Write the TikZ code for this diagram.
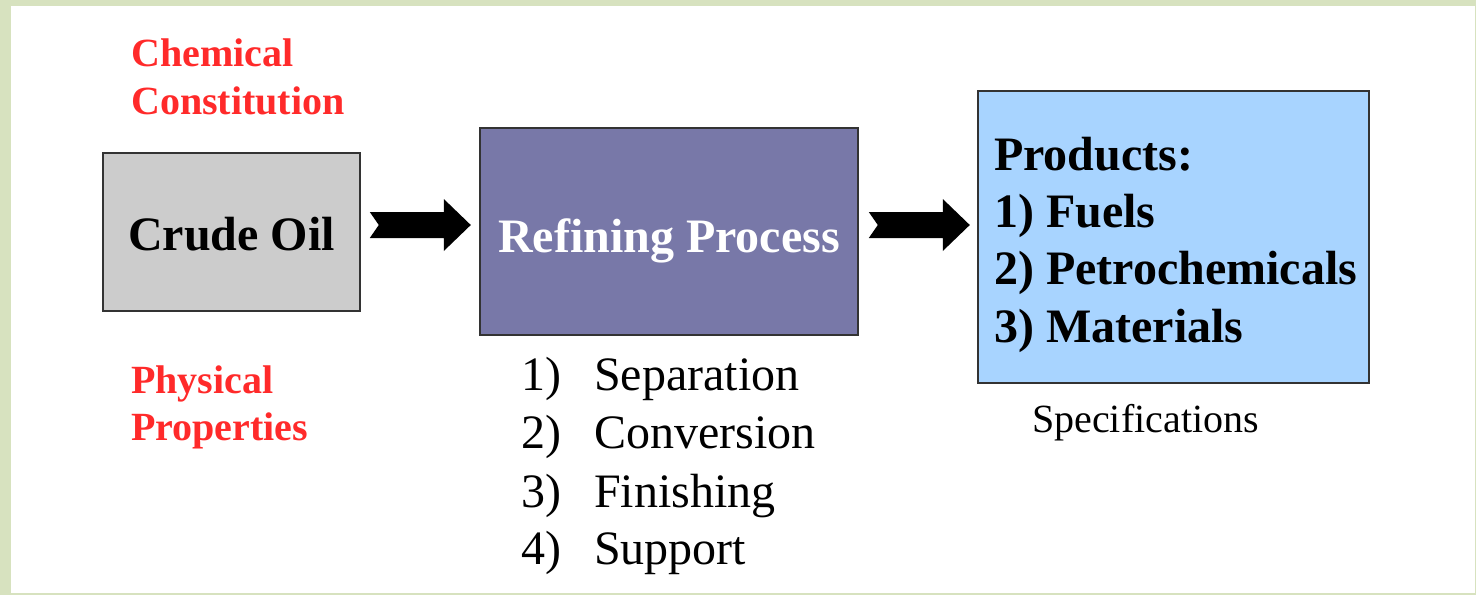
\documentclass[tikz,border=0pt]{standalone}
\usepackage{fontspec}
\setmainfont{Liberation Serif}
\usetikzlibrary{calc}

\definecolor{framegreen}{HTML}{D7E2BF}
\definecolor{crudegray}{HTML}{CCCCCC}
\definecolor{refinepurple}{HTML}{7878A8}
\definecolor{productblue}{HTML}{A8D4FF}
\definecolor{labelred}{HTML}{FF2A2A}
\definecolor{edgedark}{HTML}{333333}

\tikzset{
  box/.style={draw=edgedark, line width=1.6pt, rectangle, inner sep=0pt},
  bigbold/.style={font=\fontsize{48}{58}\selectfont\bfseries, inner sep=0pt},
  bigplain/.style={font=\fontsize{48}{58}\selectfont, inner sep=0pt},
  redlabel/.style={font=\fontsize{40}{48}\selectfont\bfseries, text=labelred, inner sep=0pt, anchor=base west},
  specs/.style={font=\fontsize{40}{48}\selectfont, inner sep=0pt, anchor=base west},
  blockarrow/.style={fill=black}
}

\begin{document}
\begin{tikzpicture}[x=1pt, y=-1pt]
  % page frame
  \useasboundingbox (0,0) rectangle (1476,595);
  \fill[framegreen] (0,0) rectangle (1476,595);
  \fill[white] (11,6) rectangle (1475,593);

  % boxes
  \node[box, fill=crudegray, minimum width=257pt, minimum height=158pt] (crude) at (231.5,232) {};
  \node[box, fill=refinepurple, minimum width=378pt, minimum height=207pt] (refine) at (669,231.5) {};
  \node[box, fill=productblue, minimum width=391pt, minimum height=292pt] (products) at (1173.5,237) {};

  % box texts
  \node[bigbold, anchor=base] (crudetxt) at ($(crude.center)+(0,18)$) {Crude Oil};
  \node[bigbold, anchor=base, text=white] (refinetxt) at ($(refine.center)+(0,20.5)$) {Refining Process};
  \node[bigbold, anchor=base west, align=left] (prodtxt) at (994,170)
    {Products:};
  \node[bigbold, anchor=base west] (prod1) at (994,227) {1) Fuels};
  \node[bigbold, anchor=base west] (prod2) at (994,284) {2) Petrochemicals};
  \node[bigbold, anchor=base west] (prod3) at (994,342) {3) Materials};

  % red side labels
  \node[redlabel] (chem1) at (131,66) {Chemical};
  \node[redlabel] (chem2) at (131,114) {Constitution};
  \node[redlabel] (phys1) at (131,393) {Physical};
  \node[redlabel] (phys2) at (131,440) {Properties};

  % process steps
  \node[bigplain, anchor=base west] (n1) at (521,390) {1)};
  \node[bigplain, anchor=base west] (s1) at (594,390) {Separation};
  \node[bigplain, anchor=base west] (n2) at (521,448) {2)};
  \node[bigplain, anchor=base west] (s2) at (594,448) {Conversion};
  \node[bigplain, anchor=base west] (n3) at (521,507) {3)};
  \node[bigplain, anchor=base west] (s3) at (594,507) {Finishing};
  \node[bigplain, anchor=base west] (n4) at (521,564) {4)};
  \node[bigplain, anchor=base west] (s4) at (594,564) {Support};

  % specifications
  \node[specs] (spec) at (1032,432) {Specifications};

  % block arrows with notched tails
  \coordinate (tailA) at ($(crude.east)+(9,-7)$);
  \coordinate (tailB) at ($(refine.east)+(10,-6.5)$);
  \foreach \t in {tailA,tailB}{
    \fill[blockarrow] (\t) ++(0,-13) -- ++(74,0) -- ++(0,-13) -- ++(27,26)
      -- ++(-27,26) -- ++(0,-13) -- ++(-74,0) -- ++(9,-13) -- cycle;
  }
\end{tikzpicture}
\end{document}
